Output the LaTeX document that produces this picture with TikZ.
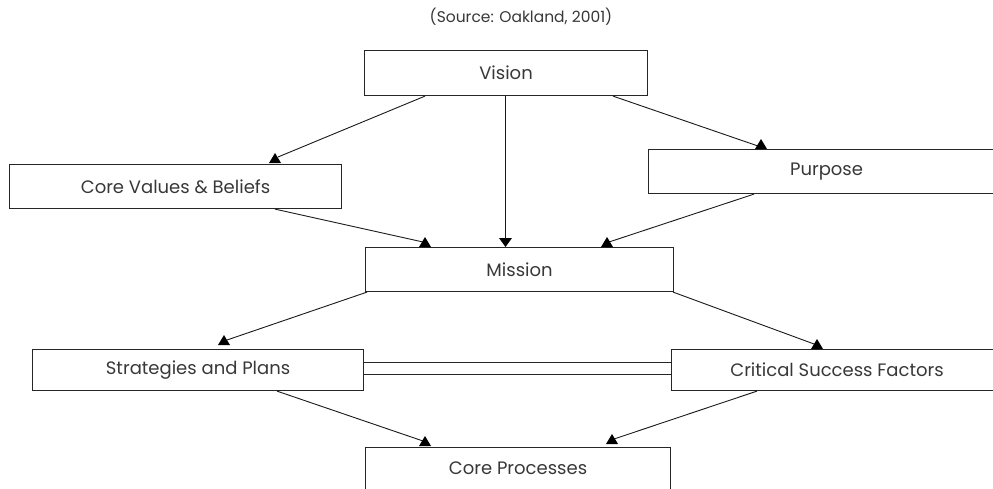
\documentclass[tikz,border=0pt]{standalone}
\usepackage{fontspec}
\setmainfont{Poppins}
\begin{document}
\begin{tikzpicture}[x=1pt,y=-1pt,
  box/.style={draw=black!85, line width=1.1pt, anchor=north west, inner sep=0pt,
    font=\fontsize{18}{21}\selectfont, text=black!78},
  link/.style={draw=black!90, line width=0.9pt},
  note/.style={font=\fontsize{15.5}{18}\selectfont, text=black!78}]
\useasboundingbox (0,0) rectangle (993,488);

% upright tip: base centred on (#1,#2)
\newcommand\uptip[2]{\fill[black] (#1-6,#2) -- (#1+6,#2) -- (#1,#2-10) -- cycle;}
\newcommand\downtip[2]{\fill[black] (#1-6.5,#2-9) -- (#1+6.5,#2-9) -- (#1,#2) -- cycle;}

\node[note] (src) at (521,17) {(Source: Oakland, 2001)};

\node[box, minimum width=283pt, minimum height=45pt] (vision) at (364,50) {Vision};
\node[box, minimum width=332pt, minimum height=44pt] (cv) at (9,164) {Core Values \& Beliefs};
\node[box, minimum width=356pt, minimum height=44pt] (purpose) at (648,149) {Purpose};
\node[box, minimum width=308pt, minimum height=44pt] (mission) at (365,247) {Mission};
\node[box, minimum width=331pt, minimum height=41pt] (strat) at (32,349) {Strategies and Plans};
\node[box, minimum width=331pt, minimum height=41pt] (csf) at (671,349) {Critical Success Factors};
\node[box, minimum width=305pt, minimum height=42pt] (core) at (365,447) {Core Processes};

% tip positions
\coordinate (t1) at (278,157);
\coordinate (t2) at (505,240);
\coordinate (t3) at (758,146);
\coordinate (t4) at (423,242);
\coordinate (t5) at (609,242);
\coordinate (t6) at (227,340);
\coordinate (t7) at (814,344);
\coordinate (t8) at (423,441);
\coordinate (t9) at (614,439);

\draw[link] ([xshift=61pt]vision.south west) -- (t1);
\draw[link] ([xshift=141pt]vision.south west) -- (t2);
\draw[link] ([xshift=249pt]vision.south west) -- (t3);
\draw[link] ([xshift=266pt]cv.south west) -- (t4);
\draw[link] ([xshift=106pt]purpose.south west) -- (t5);
\draw[link] ([xshift=2pt]mission.south west) -- (t6);
\draw[link] ([xshift=-1pt]mission.south east) -- (t7);
\draw[link] ([xshift=245pt]strat.south west) -- (t8);
\draw[link] ([xshift=86pt]csf.south west) -- (t9);

% link bar between strategies and success factors
\draw[draw=black!85, line width=1pt, double, double distance=11pt]
  ([yshift=2pt]strat.east) -- ([yshift=2pt]csf.west);

\uptip{275}{163}
\downtip{505.5}{247}
\uptip{761}{149}
\uptip{425}{247}
\uptip{607}{247}
\uptip{224}{345}
\uptip{817}{349}
\uptip{425}{446}
\uptip{612}{444}
\end{tikzpicture}
\end{document}
